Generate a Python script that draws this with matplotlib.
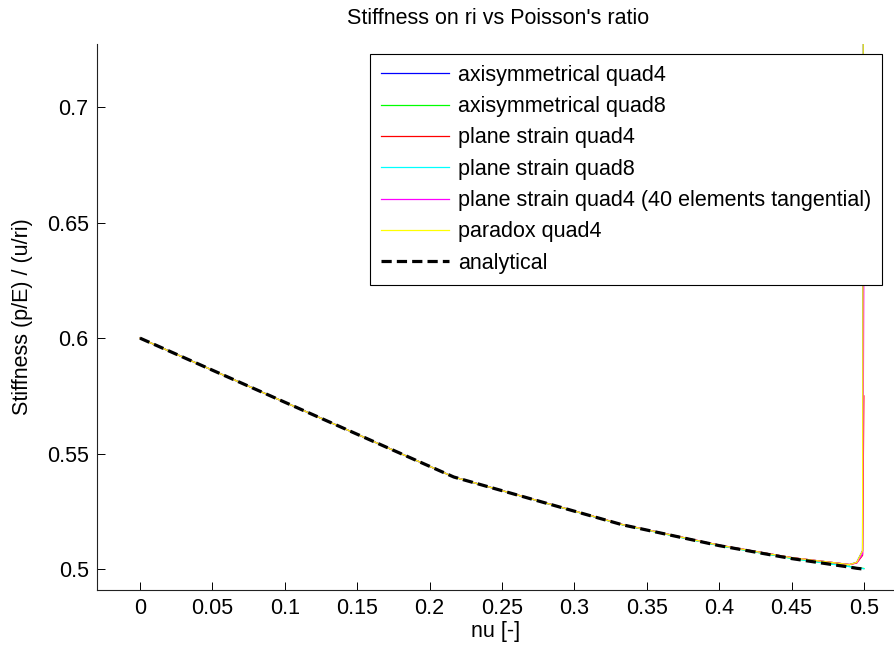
import matplotlib
matplotlib.use('Agg')
import matplotlib.pyplot as plt

# Poisson's ratio samples
NU = [0.0, 0.2167, 0.3333, 0.4, 0.45, 0.49, 0.495, 0.499, 0.4999]

# stiffness (p/E) / (u/ri) per model
AXI_Q4 = [0.6, 0.5399, 0.5193, 0.5104, 0.5050, 0.5020, 0.5030, 0.5080, 0.900]
AXI_Q8 = [0.6, 0.5399, 0.5192, 0.5102, 0.5047, 0.5012, 0.5006, 0.5004, 0.5003]
PS_Q4 = [0.6, 0.5399, 0.5193, 0.5104, 0.5050, 0.5020, 0.5027, 0.5060, 0.575]
PS_Q8 = [0.6, 0.5399, 0.5192, 0.5102, 0.5047, 0.5011, 0.5005, 0.5003, 0.5002]
PS_Q4_40 = [0.6, 0.5399, 0.5193, 0.5104, 0.5050, 0.5020, 0.5028, 0.5065, 0.630]
PARADOX_Q4 = [0.6, 0.5399, 0.5193, 0.5104, 0.5050, 0.5020, 0.5030, 0.5080, 0.950]
ANALYTICAL = [0.6, 0.5399, 0.5192, 0.5102, 0.5046, 0.5009, 0.5004, 0.5001, 0.5000]

LABELS = ['axisymmetrical quad4', 'axisymmetrical quad8', 'plane strain quad4',
          'plane strain quad8', 'plane strain quad4 (40 elements tangential)',
          'paradox quad4', 'analytical']
COLORS = ['#0000ff', '#00ff00', '#ff0000', '#00ffff', '#ff00ff', '#ffff00']

XTICKS = [0, 0.05, 0.1, 0.15, 0.2, 0.25, 0.3, 0.35, 0.4, 0.45, 0.5]
YTICKS = [0.5, 0.55, 0.6, 0.65, 0.7]

plt.rcParams['font.family'] = ['Liberation Sans', 'DejaVu Sans']
FS = 15.5

W, H = 895, 649
fig = plt.figure(figsize=(W / 100, H / 100), dpi=100)
ax = fig.add_axes([97 / W, 1 - 590 / H, (W - 97) / W, (590 - 44) / H])

series = [AXI_Q4, AXI_Q8, PS_Q4, PS_Q8, PS_Q4_40, PARADOX_Q4]
for i in range(len(series)):
  ax.plot(NU, series[i], color=COLORS[i], lw=0.9, label=LABELS[i])
ax.plot(NU, ANALYTICAL, color='k', lw=2.3, linestyle=(0, (3.2, 1.6)), label=LABELS[6])

ax.set_xlim(-0.0297, 0.5214)
ax.set_ylim(0.491, 0.7273)
ax.set_xticks(XTICKS)
ax.set_xticklabels(['{:g}'.format(v) for v in XTICKS])
ax.set_yticks(YTICKS)
ax.set_yticklabels(['{:g}'.format(v) for v in YTICKS])

for s in ['top', 'right']:
  ax.spines[s].set_visible(False)
for s in ['left', 'bottom']:
  ax.spines[s].set_linewidth(0.8)
  ax.spines[s].set_color('#222222')
ax.tick_params(direction='in', length=5.5, width=0.7, labelsize=FS, pad=6, colors='#000000')

ax.set_xlabel('nu [-]', fontsize=FS)
ax.xaxis.set_label_coords(0.5, -(632 - 590) / 546)
ax.xaxis.label.set_va('center')
ax.set_ylabel('Stiffness (p/E) / (u/ri)', fontsize=FS)
ax.yaxis.set_label_coords(-(97 - 23) / 798, 0.5)
ax.yaxis.label.set_va('center')

fig.text(498 / W, 1 - 18 / H, "Stiffness on ri vs Poisson's ratio", fontsize=FS,
         ha='center', va='center')

leg = ax.legend(loc='upper left', bbox_to_anchor=(370 / W, 1 - 54 / H),
                bbox_transform=fig.transFigure, fontsize=FS, frameon=True,
                fancybox=False, framealpha=1, edgecolor='k', borderpad=0.5,
                labelspacing=0.48, handlelength=3.15, handletextpad=0.45,
                borderaxespad=0)
leg.get_frame().set_linewidth(0.8)

fig.savefig('out.png', dpi=100)
